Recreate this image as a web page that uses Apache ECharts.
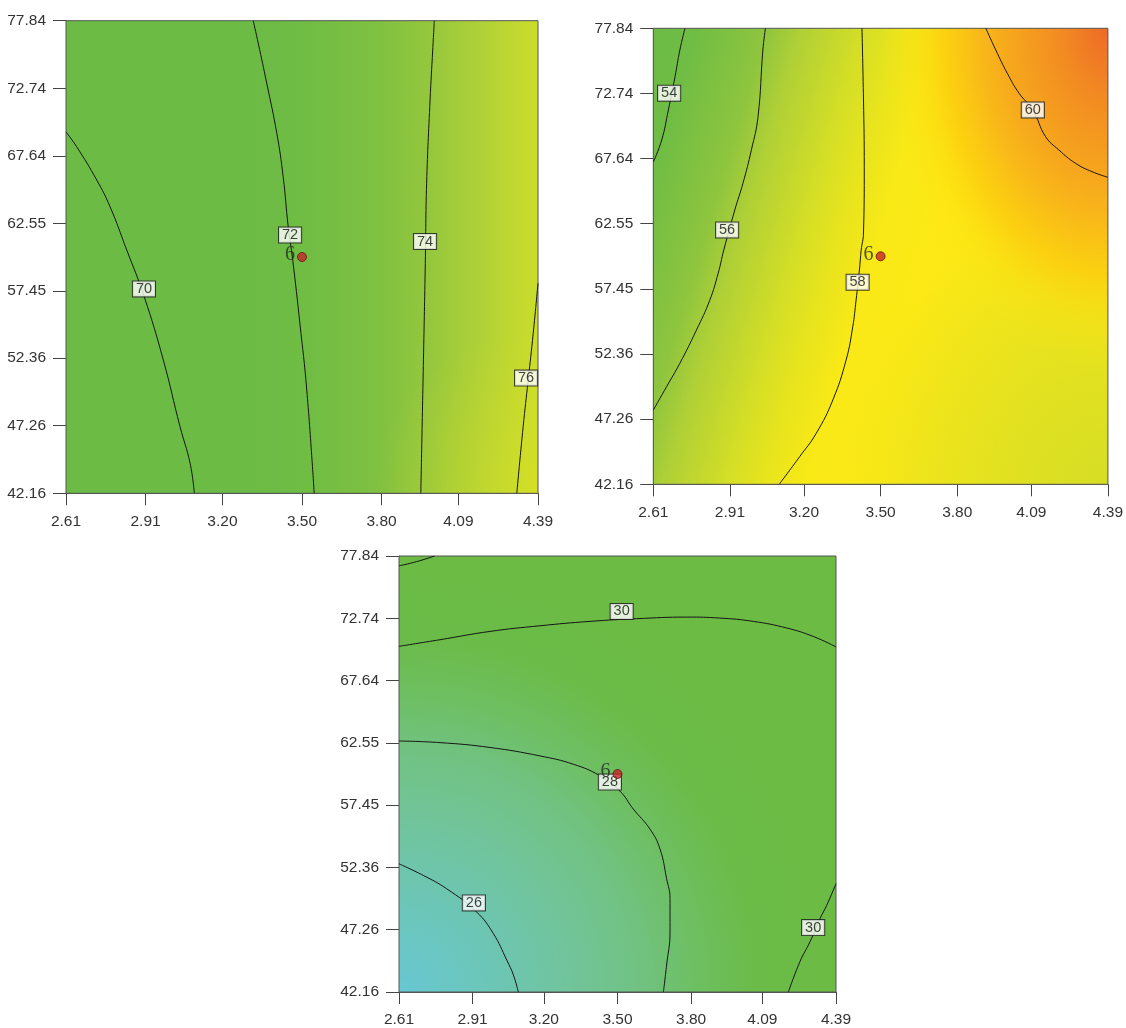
<!DOCTYPE html>
<html>
<head>
<meta charset="utf-8">
<script src="https://cdn.jsdelivr.net/npm/echarts@6/dist/echarts.min.js"></script>
<style>
  html, body { margin: 0; padding: 0; background: #ffffff; }
  #chart { width: 1126px; height: 1028px; }
</style>
</head>
<body>
<div id="chart"></div>
<script>
// Factor ranges and tick labels (shared by all three contour plots)
const xTicks = [2.61, 2.91, 3.20, 3.50, 3.80, 4.09, 4.39];
const yTicks = [42.16, 47.26, 52.36, 57.45, 62.55, 67.64, 72.74, 77.84];

// Design (centre) point with its replicate count
const centerPoint = [3.50, 60.00, '6'];

// Plot 1 (top left): contour lines [x, y]
const p1c70 = [[2.61, 69.44], [2.650, 68.33], [2.726, 65.81], [2.776, 63.80], [2.839, 60.53], [2.905, 57.00], [2.977, 52.22], [3.040, 47.19], [3.078, 44.43], [3.094, 42.16]];
const p1c72 = [[3.316, 77.84], [3.335, 76.14], [3.367, 73.12], [3.405, 69.34], [3.429, 66.06], [3.448, 62.29], [3.465, 59.77], [3.492, 54.99], [3.518, 49.96], [3.546, 42.16]];
const p1c74 = [[3.999, 77.84], [3.993, 75.63], [3.983, 71.86], [3.970, 65.57], [3.965, 59.53], [3.958, 52.23], [3.948, 42.16]];
const p1c76 = [[4.39, 58.02], [4.372, 54.24], [4.353, 50.71], [4.334, 47.19], [4.310, 42.16]];
const p1Labels = [[2.904, 57.59, 70], [3.455, 61.66, 72], [3.964, 61.17, 74], [4.345, 50.86, 76]];

// Plot 2 (top right)
const p2c54 = [[2.734, 77.84], [2.714, 76.14], [2.695, 74.05], [2.669, 71.45], [2.643, 69.10], [2.61, 67.38]];
const p2c56 = [[3.049, 77.84], [3.039, 76.14], [3.020, 70.92], [2.994, 68.32], [2.961, 65.71], [2.929, 63.62], [2.886, 60.49], [2.864, 58.67], [2.831, 56.56], [2.779, 54.23], [2.714, 51.63], [2.662, 49.80], [2.61, 47.97]];
const p2c58 = [[3.427, 77.84], [3.433, 72.23], [3.436, 67.01], [3.433, 61.82], [3.424, 60.49], [3.417, 58.93], [3.404, 56.58], [3.391, 54.49], [3.365, 51.89], [3.313, 48.76], [3.248, 46.15], [3.183, 44.32], [3.103, 42.16]];
const p2c60 = [[3.912, 77.84], [3.951, 76.14], [3.996, 74.32], [4.042, 72.76], [4.096, 71.45], [4.146, 69.36], [4.198, 68.32], [4.263, 67.28], [4.328, 66.62], [4.39, 66.18]];
const p2Labels = [[2.672, 72.76, 54], [2.899, 62.06, 56], [3.410, 57.97, 58], [4.096, 71.45, 60]];

// Plot 3 (bottom)
const p3c30a = [[2.61, 77.03], [2.682, 77.38], [2.755, 77.84]];
const p3c30b = [[2.61, 70.45], [2.777, 70.99], [2.981, 71.67], [3.184, 72.13], [3.388, 72.49], [3.578, 72.71], [3.782, 72.84], [3.917, 72.76], [4.053, 72.49], [4.189, 71.95], [4.297, 71.26], [4.39, 70.40]];
const p3c28 = [[2.61, 62.70], [2.777, 62.57], [2.981, 62.17], [3.184, 61.48], [3.320, 60.80], [3.429, 59.85], [3.510, 58.60], [3.564, 57.14], [3.632, 55.50], [3.673, 53.87], [3.700, 51.43], [3.714, 49.80], [3.714, 47.08], [3.700, 44.36], [3.687, 42.16]];
const p3c26 = [[2.61, 52.65], [2.709, 51.70], [2.804, 50.61], [2.926, 48.71], [2.994, 46.95], [3.049, 44.77], [3.076, 43.55], [3.096, 42.16]];
const p3c30c = [[4.39, 51.02], [4.352, 49.25], [4.325, 48.17], [4.284, 46.27], [4.243, 44.64], [4.196, 42.16]];
const p3Labels = [[3.517, 73.30, 30], [3.469, 59.34, 28], [2.915, 49.45, 26], [4.297, 47.43, 30]];

// ---- colour fields (styling of each plot's surface) ----
function linear(x, y, x2, y2, stops) {
  return { type: 'linear', x: x, y: y, x2: x2, y2: y2, colorStops: stops.map(s => ({ offset: s[0], color: s[1] })) };
}
function radial(x, y, r, stops) {
  return { type: 'radial', x: x, y: y, r: r, colorStops: stops.map(s => ({ offset: s[0], color: s[1] })) };
}

const surface1 = [
  { fill: linear(0, 0, 1, 0, [[0, '#6bbb45'], [0.40, '#6cbb45'], [0.52, '#71bd44'], [0.67, '#81c141'], [0.77, '#95c73d'], [0.88, '#b0d137'], [1, '#cbdd2b']]) },
  { fill: radial(1, 1, 0.35, [[0, 'rgba(224,226,32,0.45)'], [1, 'rgba(224,226,32,0)']]) }
];
const surface2 = [
  { fill: linear(0, 0, 1, 0.3, [[0, '#6bbb45'], [0.09, '#70bd44'], [0.23, '#8fc53e'], [0.30, '#b0d036'], [0.43, '#d6df25'], [0.50, '#e8e41d'], [0.58, '#f8e917'], [0.7, '#fde915'], [1, '#f5e61a']]) },
  { fill: radial(1, 1, 0.6, [[0, 'rgba(210,221,38,0.9)'], [1, 'rgba(210,221,38,0)']]) },
  { fill: radial(1, 0, 0.5, [[0, '#ee6a27'], [0.2, '#f28a22'], [0.47, '#f7ab1c'], [0.58, '#f9bb18'], [0.72, 'rgba(252,205,15,0.85)'], [0.86, 'rgba(253,222,15,0.4)'], [1, 'rgba(253,230,20,0)']]), stretchY: 1.5, origin: [1, 0] }
];
const surface3 = [
  { fill: radial(0, 1, 1.0, [[0, '#67c7d2'], [0.2, '#6cc6b8'], [0.4, '#71c49a'], [0.55, '#71c282'], [0.68, '#6ebf62'], [0.82, '#6bbb48'], [1, '#6bbb45']]) }
];

function surfaceItem(layers) {
  return function (params, api) {
    const tl = api.coord([api.value(0), api.value(3)]);
    const br = api.coord([api.value(2), api.value(1)]);
    const x = tl[0], y = tl[1], w = br[0] - tl[0], h = br[1] - tl[1];
    const children = layers.map(function (layer) {
      const el = { type: 'rect', shape: { x: x, y: y, width: w, height: h }, style: { fill: layer.fill } };
      if (layer.stretchY) {
        el.scaleY = layer.stretchY;
        el.originX = x + w * layer.origin[0];
        el.originY = y + h * layer.origin[1];
      }
      return el;
    });
    children.push({ type: 'rect', shape: { x: x, y: y, width: w, height: h }, style: { fill: 'none', stroke: '#555555', lineWidth: 1 } });
    return { type: 'group', children: children };
  };
}

const grids = [
  { left: 66, top: 20.7, width: 472, height: 472.6 },
  { left: 653.3, top: 28.3, width: 456, height: 456 },
  { left: 399, top: 556, width: 437, height: 437.7 }
];

const axisFont = { fontFamily: 'Liberation Sans, Arial, sans-serif', fontSize: 15.5, color: '#333333' };

function xAxisFor(i) {
  return {
    type: 'value', gridIndex: i, min: xTicks[0], max: xTicks[xTicks.length - 1],
    axisLine: { show: true, lineStyle: { color: '#555555', width: 1 } },
    axisTick: { show: true, inside: false, length: 12, customValues: xTicks, lineStyle: { color: '#444444' } },
    axisLabel: Object.assign({ customValues: xTicks, margin: 20, formatter: v => v.toFixed(2) }, axisFont),
    splitLine: { show: false }
  };
}
function yAxisFor(i) {
  return {
    type: 'value', gridIndex: i, min: yTicks[0], max: yTicks[yTicks.length - 1],
    axisLine: { show: true, lineStyle: { color: '#555555', width: 1 } },
    axisTick: { show: true, inside: false, length: 13, customValues: yTicks, lineStyle: { color: '#444444' } },
    axisLabel: Object.assign({ customValues: yTicks, margin: 20, formatter: v => v.toFixed(2) }, axisFont),
    splitLine: { show: false }
  };
}

function contour(i, pts) {
  return {
    type: 'line', xAxisIndex: i, yAxisIndex: i, data: pts,
    symbol: 'none', smooth: 0.45, silent: true, z: 3,
    lineStyle: { color: '#151515', width: 1 }
  };
}
function contourLabels(i, items) {
  return {
    type: 'scatter', xAxisIndex: i, yAxisIndex: i, data: items,
    symbolSize: 0, silent: true, z: 5,
    label: {
      show: true, position: 'inside', formatter: p => String(p.value[2]),
      backgroundColor: '#ffffff', borderColor: '#1a1a1a', borderWidth: 1,
      padding: [1, 3, 0, 3], lineHeight: 14,
      fontFamily: 'Liberation Sans, Arial, sans-serif', fontSize: 14.5, color: '#111111'
    }
  };
}
function designPoint(i) {
  return {
    type: 'scatter', xAxisIndex: i, yAxisIndex: i, data: [centerPoint],
    symbol: 'circle', symbolSize: 9, silent: true, z: 6,
    itemStyle: { color: '#c4252b', borderColor: '#6e1014', borderWidth: 1 },
    label: {
      show: true, position: 'left', distance: 2, offset: [0, -2],
      formatter: p => p.value[2],
      fontFamily: 'Liberation Serif, Times New Roman, serif', fontSize: 20, color: '#223022'
    }
  };
}
function surface(i, layers) {
  return {
    type: 'custom', xAxisIndex: i, yAxisIndex: i, silent: true, z: 1,
    data: [[xTicks[0], yTicks[0], xTicks[xTicks.length - 1], yTicks[yTicks.length - 1]]],
    encode: { x: [0, 2], y: [1, 3] },
    renderItem: surfaceItem(layers)
  };
}

const chart = echarts.init(document.getElementById('chart'), null, { renderer: 'canvas' });
chart.setOption({
  animation: false,
  backgroundColor: '#ffffff',
  grid: grids,
  xAxis: [xAxisFor(0), xAxisFor(1), xAxisFor(2)],
  yAxis: [yAxisFor(0), yAxisFor(1), yAxisFor(2)],
  series: [
    surface(0, surface1),
    contour(0, p1c70), contour(0, p1c72), contour(0, p1c74), contour(0, p1c76),
    contourLabels(0, p1Labels), designPoint(0),

    surface(1, surface2),
    contour(1, p2c54), contour(1, p2c56), contour(1, p2c58), contour(1, p2c60),
    contourLabels(1, p2Labels), designPoint(1),

    surface(2, surface3),
    contour(2, p3c30a), contour(2, p3c30b), contour(2, p3c28), contour(2, p3c26), contour(2, p3c30c),
    contourLabels(2, p3Labels), designPoint(2)
  ]
});
</script>
</body>
</html>
